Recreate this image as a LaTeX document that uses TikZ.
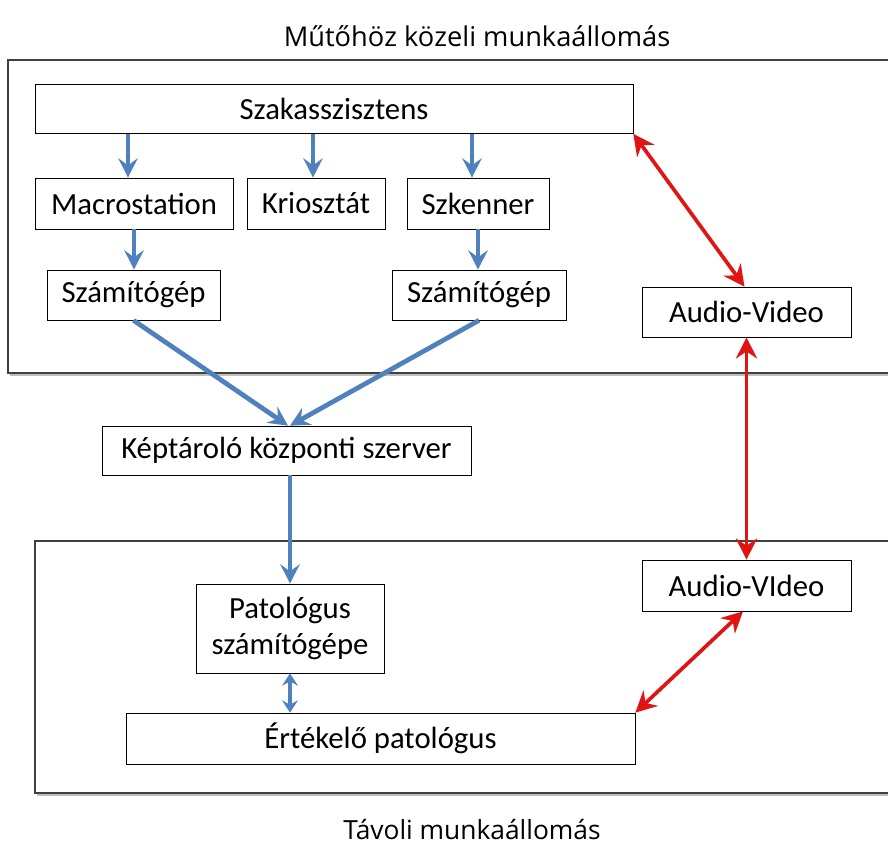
\documentclass[tikz,border=0pt]{standalone}
\usepackage{fontspec}
\setmainfont{Carlito}
\newfontfamily\titlefont{Open Sans}
\usetikzlibrary{arrows.meta}

\begin{document}
\begin{tikzpicture}[x=0.02cm, y=-0.02cm,
		box/.style={draw=black, thin, fill=white, inner sep=0pt, align=center,
			font=\fontsize{17.5}{21}\selectfont},
		blueTip/.tip={Stealth[length=11pt, width=11pt, inset=4pt]},
		smallTip/.tip={Stealth[length=7pt, width=9pt, inset=2.5pt]},
		redTip/.tip={Stealth[length=12pt, width=12pt, inset=4pt]},
		blueArrow/.style={color={rgb,255:red,79;green,129;blue,189}, line width=2pt, -blueTip},
		redArrow/.style={color={rgb,255:red,225;green,20;blue,20}, line width=2.1pt, redTip-redTip},
		station/.style={draw=black!75, line width=1pt},
		stationShadow/.style={draw=black!25, line width=1.2pt}]
		\useasboundingbox (0, 0) rectangle (888, 859);

		% munkaallomasok
		\draw[stationShadow] (10, 375) -- (895, 375);
		\draw[station] (8, 60) rectangle (895, 373);
		\draw[stationShadow] (37, 795) -- (895, 795);
		\draw[station] (35, 541) rectangle (895, 793);
		\node[font=\titlefont\fontsize{15.5}{18}\selectfont] (topTitle) at (477, 36) {Műtőhöz közeli munkaállomás};
		\node[font=\titlefont\fontsize{15}{18}\selectfont] (bottomTitle) at (472, 830) {Távoli munkaállomás};

		% dobozok
		\node[box, minimum width=11.96cm, minimum height=0.98cm] (szak) at (334, 109) {Szakasszisztens};
		\node[box, minimum width=3.96cm, minimum height=1.02cm] (macro) at (134, 203.5) {Macrostation};
		\node[box, minimum width=2.76cm, minimum height=1.02cm] (krio) at (316, 203.5) {Kriosztát};
		\node[box, minimum width=2.84cm, minimum height=1.02cm] (szken) at (478, 203.5) {Szkenner};
		\node[box, minimum width=3.46cm, minimum height=1.0cm] (gepA) at (133.5, 295) {Számítógép};
		\node[box, minimum width=3.48cm, minimum height=1.0cm] (gepB) at (479, 295) {Számítógép};
		\node[box, minimum width=4.18cm, minimum height=1.0cm] (avA) at (746.5, 312) {Audio-Video};
		\node[box, minimum width=7.38cm, minimum height=0.98cm] (szerver) at (286.5, 450.5) {Képtároló központi szerver};
		\node[box, minimum width=3.76cm, minimum height=1.78cm] (pat) at (290, 628.5) {Patológus\\számítógépe};
		\node[box, minimum width=4.18cm, minimum height=1.02cm] (avB) at (746.5, 585.5) {Audio-VIdeo};
		\node[box, minimum width=10.18cm, minimum height=1.02cm] (ertek) at (380.5, 738.5) {Értékelő patológus};

		% kapcsolatok
		\draw[blueArrow] ([xshift=-0.12cm]szak.south -| macro.north) -- ([xshift=-0.12cm]macro.north);
		\draw[blueArrow] ([xshift=-0.06cm]szak.south -| krio.north) -- ([xshift=-0.06cm]krio.north);
		\draw[blueArrow] ([xshift=-0.12cm]szak.south -| szken.north) -- ([xshift=-0.12cm]szken.north);
		\draw[blueArrow] (macro.south) -- (macro.south |- gepA.north);
		\draw[blueArrow] (szken.south) -- (szken.south |- gepB.north);
		\draw[blueArrow, line width=2.7pt] (gepA.south) -- ([xshift=0.03cm]szerver.north);
		\draw[blueArrow, line width=2.7pt] (gepB.south) -- ([xshift=0.07cm]szerver.north);
		\draw[blueArrow] (szerver.south -| pat.north) -- (pat.north);
		\draw[blueArrow, smallTip-smallTip] (pat.south) -- (pat.south |- ertek.north);
		\draw[redArrow] (szak.south east) -- ([xshift=-0.04cm]avA.north);
		\draw[redArrow] (avA.south) -- (avB.north);
		\draw[redArrow] (ertek.north east) -- ([xshift=-0.07cm]avB.south);
\end{tikzpicture}
\end{document}
